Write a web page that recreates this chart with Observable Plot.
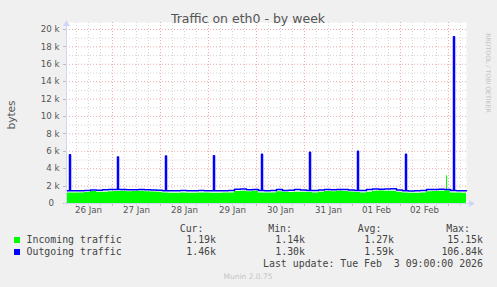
<!DOCTYPE html>
<html><head><meta charset="utf-8">
<script src="https://cdn.jsdelivr.net/npm/d3@7"></script>
<script src="https://cdn.jsdelivr.net/npm/@observablehq/plot@0.6"></script>
<style>
html,body{margin:0;padding:0;background:#f0f0f0;}
#wrap{position:relative;width:497px;height:287px;overflow:hidden;font-family:"DejaVu Sans",sans-serif;color:#555;}
#chart{position:absolute;left:0;top:0;}
.t{position:absolute;white-space:pre;line-height:1;}
.mono{font-family:"DejaVu Sans Mono",monospace;font-size:9.9px;color:#444;}
.sq{position:absolute;width:6px;height:6px;}
</style></head><body>
<div id="wrap"><div id="chart"></div></div>
<script>
// ---- data ----
const title = "Traffic on eth0 - by week";
const yLabel = "bytes";
const startUTC = Date.UTC(2026, 0, 26, 1);   // first sample
const endUTC = Date.UTC(2026, 1, 3, 9);      // last update
const stepHours = 3;
// incoming (k bytes), one value every 3 h from Jan 26 01:00
const incoming = [
  1.20,1.22,1.20,1.25,1.38,1.28,1.30,1.35,   // Jan 26
  1.38,1.40,1.35,1.38,1.42,1.36,1.33,1.30,   // Jan 27
  1.20,1.19,1.18,1.22,1.19,1.18,1.20,1.21,   // Jan 28
  1.19,1.18,1.20,1.20,1.38,1.42,1.35,1.40,   // Jan 29
  1.22,1.20,1.22,1.35,1.28,1.25,1.30,1.28,   // Jan 30
  1.25,1.22,1.30,1.38,1.35,1.40,1.38,1.32,   // Jan 31
  1.25,1.22,1.30,1.42,1.45,1.40,1.42,1.30,   // Feb 1
  1.20,1.18,1.19,1.20,1.35,1.38,1.40,1.45,   // Feb 2
  1.22,1.20,1.19                              // Feb 3
];
const outgoing = [
  1.46,1.47,1.46,1.50,1.55,1.52,1.58,1.60,
  1.60,1.60,1.57,1.58,1.62,1.57,1.55,1.52,
  1.47,1.46,1.46,1.48,1.46,1.46,1.50,1.47,
  1.46,1.46,1.47,1.48,1.65,1.68,1.58,1.62,
  1.48,1.46,1.48,1.60,1.50,1.52,1.60,1.55,
  1.50,1.48,1.55,1.62,1.58,1.62,1.60,1.55,
  1.50,1.48,1.60,1.68,1.65,1.66,1.70,1.55,
  1.46,1.45,1.46,1.48,1.60,1.62,1.65,1.62,
  1.50,1.47,1.46
];
// short spikes (30-min samples)
const outSpikeTimes = ["2026-01-26T02:30Z","2026-01-27T02:30Z","2026-01-28T02:30Z","2026-01-29T02:30Z","2026-01-30T02:30Z","2026-01-31T02:30Z","2026-02-01T02:30Z","2026-02-02T02:30Z","2026-02-03T02:30Z"];
const outSpikeValues = [5.6,5.35,5.45,5.5,5.65,5.9,6.0,5.65,19.15];
const inSpikeTimes = ["2026-02-02T23:00Z"];
const inSpikeValues = [3.2];
// axis tick labels
const dayLabels = ["26 Jan","27 Jan","28 Jan","29 Jan","30 Jan","31 Jan","01 Feb","02 Feb"];
const yTickValues = [0,2000,4000,6000,8000,10000,12000,14000,16000,18000,20000];
const yTickLabels = ["0  ","2 k","4 k","6 k","8 k","10 k","12 k","14 k","16 k","18 k","20 k"];
// legend
const seriesNames = ["Incoming traffic","Outgoing traffic"];
const seriesColors = ["#00ff00","#0000ff"];
const curVals = ["1.19k","1.46k"];
const minVals = ["1.14k","1.30k"];
const avgVals = ["1.27k","1.59k"];
const maxVals = ["15.15k","106.84k"];
const lastUpdate = "Last update: Tue Feb  3 09:00:00 2026";
const footer = "Munin 2.0.75";
const watermark = "RRDTOOL / TOBI OETIKER";

// ---- build series (step-hold) ----
function build(vals, spikeT, spikeV) {
  const pts = vals.map((v, i) => ({t: new Date(startUTC + i * stepHours * 3600e3), v: v * 1000}));
  pts.push({t: new Date(endUTC), v: vals[vals.length - 1] * 1000});
  const held = (t) => { let v = pts[0].v; for (const p of pts) { if (p.t <= t) v = p.v; } return v; };
  const extra = [];
  spikeT.forEach((s, i) => {
    const t = new Date(s);
    const after = new Date(+t + 1800e3);
    extra.push({t, v: spikeV[i] * 1000});
    extra.push({t: after, v: held(after)});
  });
  const all = pts.filter(p => !spikeT.some(s => +p.t > +new Date(s) && +p.t < +new Date(s) + 1800e3)).concat(extra);
  return all.sort((a, b) => a.t - b.t);
}
const inSeries = build(incoming, inSpikeTimes, inSpikeValues);
const outSeries = build(outgoing, outSpikeTimes, outSpikeValues);

const t0 = new Date(startUTC), t1 = new Date(endUTC);
const majorX = d3.utcDay.range(new Date(startUTC), t1);
const minorX = d3.utcHour.every(6).range(t0, t1).filter(d => d.getUTCHours() !== 0);
const majorY = yTickValues.filter(v => v > 0);
const minorY = yTickValues.filter(v => v > 0).map(v => v - 1000);
const days = dayLabels.map((l, i) => ({t: new Date(Date.UTC(2026, 0, 26 + i, 12)), label: l}));
const yTicks = yTickValues.map((v, i) => ({v, label: yTickLabels[i]}));
const minorColor = "#d6d6d6", majorColor = "#eeaaaa";

const plot = Plot.plot({
  width: 497, height: 220,
  marginLeft: 66, marginRight: 31, marginTop: 22, marginBottom: 17,
  style: {background: "transparent", fontFamily: "'DejaVu Sans'", fontSize: "8.7px", color: "#555", overflow: "visible"},
  x: {type: "utc", domain: [t0, t1], axis: null},
  y: {domain: [0, 20800], axis: null},
  marks: [
    Plot.frame({fill: "white", stroke: "none"}),
    Plot.ruleX(minorX, {stroke: minorColor, strokeDasharray: "1,2"}),
    Plot.ruleY(minorY, {stroke: minorColor, strokeDasharray: "1,2"}),
    Plot.ruleX(majorX, {stroke: majorColor, strokeDasharray: "1,2"}),
    Plot.ruleY(majorY, {stroke: majorColor, strokeDasharray: "1,2"}),
    Plot.areaY(inSeries, {x: "t", y: "v", fill: "#00ff00", curve: "step-after"}),
    Plot.line(outSeries, {x: "t", y: "v", stroke: "#0000ff", strokeWidth: 1.5, curve: "step-after"}),
    Plot.text(days, {x: "t", text: "label", frameAnchor: "bottom", dy: 9.5, fill: "#555"}),
    Plot.text(yTicks, {y: "v", text: "label", frameAnchor: "left", dx: -7, textAnchor: "end", fill: "#555"})
  ]
});
document.getElementById("chart").appendChild(plot);

// ---- axis lines, arrows, ticks (from the plot scales) ----
const sx = plot.scale("x"), sy = plot.scale("y");
const X = d3.scaleUtc().domain(sx.domain).range(sx.range);
const Y = d3.scaleLinear().domain(sy.domain).range(sy.range);
const svg = d3.select(plot);
const g = svg.append("g");
const xa = X(t0), xb = X(t1), y0 = Y(0), yTop = Y(sy.domain[1]);
const axisColor = "#cfd6f8";
yTickValues.forEach(v => g.append("line").attr("x1", xa - 3).attr("x2", xa).attr("y1", Math.round(Y(v)) + 0.5).attr("y2", Math.round(Y(v)) + 0.5).attr("stroke", "#bbb"));
minorX.concat(majorX).forEach(d => g.append("line").attr("x1", Math.round(X(d)) + 0.5).attr("x2", Math.round(X(d)) + 0.5).attr("y1", y0).attr("y2", y0 + 3).attr("stroke", d.getUTCHours() === 0 ? majorColor : minorColor));
g.append("line").attr("x1", Math.round(xa) + 0.5).attr("x2", Math.round(xa) + 0.5).attr("y1", y0 + 2).attr("y2", yTop - 1).attr("stroke", axisColor);
g.append("line").attr("x1", xa - 2).attr("x2", xb + 5).attr("y1", Math.round(y0) + 0.5).attr("y2", Math.round(y0) + 0.5).attr("stroke", axisColor);
g.append("path").attr("d", `M${xa - 3},${yTop + 4}L${xa + 4},${yTop + 4}L${xa + 0.5},${yTop - 2}Z`).attr("fill", axisColor);
g.append("path").attr("d", `M${xb + 3},${y0 - 3}L${xb + 3},${y0 + 4}L${xb + 9},${y0 + 0.5}Z`).attr("fill", axisColor);

// ---- html texts ----
const wrap = document.getElementById("wrap");
function put(text, opts, cls) {
  const el = document.createElement("div");
  el.className = "t " + (cls || "");
  el.textContent = text;
  let tx = "0";
  if (opts.center != null) { el.style.left = opts.center + "px"; tx = "-50%"; }
  else if (opts.right != null) { el.style.right = (497 - opts.right) + "px"; }
  else el.style.left = opts.left + "px";
  el.style.top = opts.y + "px";
  el.style.transform = `translate(${tx},-50%)` + (opts.rot ? ` rotate(${opts.rot}deg)` : "");
  Object.assign(el.style, opts.style || {});
  wrap.appendChild(el);
  return el;
}
put(title, {center: 248, y: 19, style: {fontSize: "12.5px", color: "#555"}});
put(yLabel, {center: 11, y: 115, rot: -90, style: {fontSize: "10.6px", color: "#555"}});
put(watermark, {center: 487.5, y: 73, rot: 90, style: {fontSize: "6.2px", color: "#c4c4c4"}});
const colRights = [203.5, 292, 381.5, 470];
["Cur:","Min:","Avg:","Max:"].forEach((h, i) => put(h, {right: colRights[i], y: 228.5}, "mono"));
const valRights = [216, 305, 394, 483];
const rowY = [240, 251.7];
seriesNames.forEach((n, r) => {
  const sq = document.createElement("div");
  sq.className = "sq"; sq.style.left = "14px"; sq.style.top = (rowY[r] - 3) + "px"; sq.style.background = seriesColors[r];
  wrap.appendChild(sq);
  put(n, {left: 26.5, y: rowY[r]}, "mono");
  [curVals, minVals, avgVals, maxVals].forEach((arr, c) => put(arr[r], {right: valRights[c], y: rowY[r]}, "mono"));
});
put(lastUpdate, {right: 483, y: 264}, "mono");
put(footer, {center: 248, y: 277, style: {fontSize: "7.5px", color: "#c4c4c4"}});
</script>
</body></html>
